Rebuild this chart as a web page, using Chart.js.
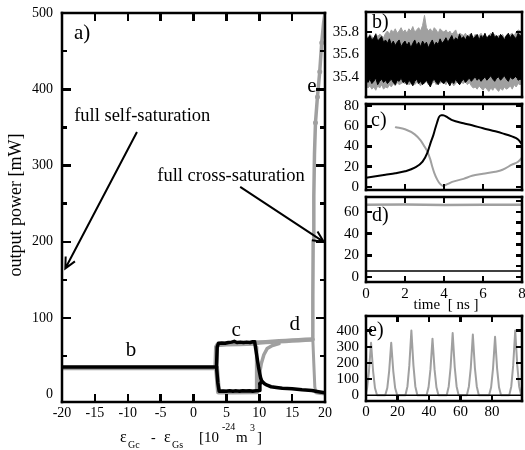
<!DOCTYPE html>
<html>
<head>
<meta charset="utf-8">
<script src="https://cdn.jsdelivr.net/npm/chart.js@4.4.1/dist/chart.umd.min.js"></script>
<style>
  html, body { margin: 0; padding: 0; background: #fff; }
  #wrap { position: relative; width: 525px; height: 450px; overflow: hidden; }
  canvas { position: absolute; display: block; }
  .tick { position: absolute; background: #000; }
</style>
</head>
<body>
<div id="wrap">
  <canvas id="panelA" width="350" height="450" style="left:0;top:0"></canvas>
  <canvas id="panelB" width="199" height="100" style="left:326px;top:0"></canvas>
  <canvas id="panelC" width="199" height="92" style="left:326px;top:100px"></canvas>
  <canvas id="panelD" width="199" height="125" style="left:326px;top:190px"></canvas>
  <canvas id="panelE" width="199" height="138" style="left:326px;top:312px"></canvas>
</div>
<script>
// ---- panel a: output power vs eps_Gc - eps_Gs ----
const aXTicks = [-20, -15, -10, -5, 0, 5, 10, 15, 20];
const aYTicks = [0, 100, 200, 300, 400, 500];
const aYMinor = [50, 150, 250, 350, 450];

// black mode
const aBlackSelf = [[-20, 36], [3.5, 36]];
const aBlackUpper = [[3.5, 36], [3.6, 62], [3.8, 67], [4.3, 67.5], [4.8, 67], [5.3, 68], [5.8, 68.5],
  [6.2, 69.5], [6.6, 68], [7.1, 68.5], [7.6, 68], [8.1, 68.5], [8.6, 68], [9.0, 69], [9.3, 69],
  [9.6, 52], [9.9, 35], [10.2, 22], [10.4, 17]];
const aBlackLower = [[3.5, 36], [3.7, 15], [3.9, 4], [4.5, 4.5], [5, 4], [5.5, 4.8], [6, 4.2],
  [6.5, 4.6], [7, 4], [7.5, 4.7], [8, 4.3], [8.5, 4.8], [9, 4.2], [9.5, 4.6], [10, 5], [10.1, 14]];
const aBlackTail = [[10.1, 14], [10.4, 17], [10.8, 14], [11.2, 12], [11.8, 10], [12.6, 9],
  [13.5, 8], [15, 7.5], [16.5, 6], [18, 5], [19, 3.5], [20, 2]];

// gray mode
const aGraySelf = [[-20, 34.5], [3.4, 34.5]];
const aGrayUpper = [[3.4, 35], [3.5, 62], [3.7, 65], [5, 66], [7, 66.5], [9.3, 67], [9.5, 68]];
const aGrayLower = [[3.5, 35], [3.8, 3], [6, 3], [9.6, 3.5]];
const aGrayCross = [[9.3, 67], [10, 68], [11, 68.5], [12, 69], [13, 69.5], [14, 70], [15, 70.5],
  [16, 71], [17, 71.5], [18.1, 72]];
const aGrayRise = [[9.6, 62], [9.6, 5], [9.8, 10], [10, 25], [10.3, 40], [10.7, 52], [11.2, 60],
  [12, 64], [13, 66.5]];
const aGrayPeak = [[18.1, 72], [18.15, 130], [18.2, 200], [18.3, 260], [18.4, 315], [18.55, 356],
  [18.85, 390], [19.2, 423], [19.5, 461], [19.8, 488], [20, 500]];
const aGrayMarks = [[18.55, 356], [18.85, 390], [19.2, 423], [19.5, 461]];
const aGrayDrop = [[18.15, 72], [18.3, 40], [18.45, 10], [18.6, 2], [19.3, 1], [20, 0.5]];

// ---- panel b: noise band, 0..8 ns, 0.1 ns step ----
const bBlackTop = [35.76,35.74,35.77,35.73,35.75,35.78,35.72,35.74,35.76,35.71,
  35.73,35.70,35.74,35.69,35.72,35.68,35.71,35.73,35.67,35.70,
  35.72,35.68,35.71,35.66,35.70,35.73,35.68,35.71,35.67,35.72,
  35.69,35.71,35.66,35.70,35.73,35.68,35.71,35.69,35.74,35.70,
  35.72,35.75,35.71,35.74,35.77,35.72,35.75,35.73,35.78,35.74,
  35.76,35.73,35.77,35.75,35.79,35.74,35.76,35.78,35.73,35.77,
  35.75,35.79,35.74,35.77,35.76,35.80,35.75,35.77,35.74,35.78,
  35.76,35.73,35.77,35.79,35.75,35.78,35.76,35.74,35.79,35.77,35.76];
const bBlackBottom = [35.37,35.35,35.38,35.34,35.36,35.39,35.33,35.36,35.38,35.35,
  35.37,35.34,35.36,35.38,35.35,35.33,35.37,35.36,35.39,35.35,
  35.36,35.33,35.37,35.35,35.32,35.36,35.38,35.34,35.36,35.33,
  35.35,35.37,35.34,35.31,35.36,35.38,35.35,35.33,35.37,35.35,
  35.34,35.37,35.35,35.32,35.36,35.34,35.38,35.35,35.33,35.36,
  35.38,35.35,35.37,35.39,35.36,35.38,35.40,35.37,35.39,35.36,
  35.38,35.40,35.37,35.39,35.41,35.38,35.36,35.39,35.40,35.37,
  35.39,35.41,35.38,35.36,35.40,35.38,35.39,35.41,35.37,35.38,35.37];
const bGrayTop = [35.77,35.75,35.78,35.76,35.74,35.79,35.76,35.78,35.77,35.75,
  35.79,35.81,35.78,35.82,35.80,35.83,35.79,35.81,35.84,35.80,
  35.82,35.79,35.83,35.81,35.85,35.80,35.82,35.84,35.81,35.86,
  35.95,35.84,35.81,35.83,35.80,35.84,35.82,35.79,35.83,35.81,
  35.80,35.82,35.79,35.81,35.78,35.80,35.82,35.77,35.79,35.78,
  35.77,35.79,35.76,35.78,35.77,35.75,35.78,35.76,35.77,35.79,
  35.76,35.78,35.75,35.77,35.79,35.76,35.78,35.75,35.77,35.76,
  35.78,35.75,35.77,35.76,35.78,35.79,35.77,35.80,35.82,35.81,35.80];
const bGrayBottom = [35.33,35.30,35.32,35.29,35.31,35.28,35.32,35.30,35.33,35.29,
  35.31,35.30,35.33,35.31,35.34,35.32,35.35,35.33,35.34,35.35,
  35.34,35.35,35.33,35.34,35.36,35.33,35.35,35.34,35.32,35.35,
  35.34,35.36,35.33,35.35,35.34,35.36,35.33,35.35,35.34,35.36,
  35.35,35.33,35.36,35.34,35.35,35.32,35.34,35.36,35.33,35.35,
  35.34,35.36,35.33,35.35,35.32,35.30,35.31,35.29,35.32,35.30,
  35.28,35.31,35.29,35.27,35.30,35.28,35.31,35.29,35.27,35.30,
  35.28,35.31,35.29,35.30,35.32,35.29,35.33,35.31,35.34,35.33,35.34];
const bStep = 0.1;
const bYTicks = [35.4, 35.6, 35.8];
const nsTicks = [0, 2, 4, 6, 8];
const nsInner = [2, 4, 6];

// ---- panel c: switching transient ----
const cBlackTime = [0, 0.5, 1, 1.5, 2, 2.5, 2.9, 3.15, 3.32, 3.45, 3.54, 3.65, 3.74, 3.85, 3.95,
  4.2, 4.42, 5, 5.44, 6, 6.63, 7, 7.48, 7.8, 8];
const cBlack = [9, 10.5, 12, 13.5, 15.5, 19, 25, 34, 44, 51, 57, 64, 69, 71, 71,
  68.5, 66, 63, 61, 58, 55, 53, 50, 47, 42];
const cGrayTime = [1.53, 2, 2.5, 2.8, 3.0, 3.15, 3.3, 3.4, 3.5, 3.66, 3.8, 3.95, 4.2, 4.42,
  5, 5.44, 6, 6.63, 7, 7.48, 7.8, 8];
const cGray = [59, 57, 52, 46, 40, 35, 27, 20, 14, 7, 3, 1, 3, 5, 8, 11, 13, 15, 17, 22, 25, 29];
const cYTicks = [0, 20, 40, 60, 80];

// ---- panel d: cross-saturated steady state ----
const dTime = [0, 2, 4, 6, 8];
const dGray = [66.5, 66.7, 66.4, 66.6, 66.5];
const dBlack = [5.5, 5.5, 5.5, 5.5, 5.5];
const dYTicks = [0, 20, 40, 60];
const dYMinor = [10, 30, 50, 70];

// ---- panel e: pulse train, ps ----
const eTime = [0, 0.7, 1.9, 3.2, 4.5, 5.7, 7,
  12.2, 13.5, 14.7, 16, 17.3, 18.5, 19.8,
  25, 26.3, 27.5, 28.8, 30.1, 31.3, 32.6,
  38.4, 39.7, 40.9, 42.2, 43.5, 44.7, 46,
  51.2, 52.5, 53.7, 55, 56.3, 57.5, 58.8,
  64, 65.3, 66.5, 67.8, 69.1, 70.3, 71.6,
  78.1, 79.4, 80.6, 81.9, 83.2, 84.4, 85.7,
  90.9, 92.2, 93.4, 94.7, 96, 97.2, 98.5, 99];
const ePower = [15, 45, 150, 325, 150, 45, 0,
  0, 45, 150, 325, 150, 45, 0,
  0, 55, 185, 400, 185, 55, 0,
  0, 50, 160, 350, 160, 50, 0,
  0, 55, 175, 385, 175, 55, 0,
  0, 55, 170, 375, 170, 55, 0,
  0, 50, 165, 362, 165, 50, 0,
  0, 55, 185, 400, 185, 55, 0, 0];
const eBaseTime = [0, 99];
const eBase = [0, 0];
const eXTicks = [0, 20, 40, 60, 80];
const eYTicks = [0, 100, 200, 300, 400];

// ---- shared helpers ----
const SERIF = '"Liberation Serif", "Times New Roman", serif';
const BLACK = '#000000';
const GRAY = '#a0a0a0';

function pairs(points) {
  return points.map(([x, y]) => ({ x, y }));
}

function zip(xs, ys) {
  return xs.map((x, i) => ({ x, y: ys[i] }));
}

function seg(points, color, width, order) {
  return {
    data: points, borderColor: color, backgroundColor: color,
    borderWidth: width, pointRadius: 0, tension: 0, order,
    fill: false, borderJoinStyle: 'round', borderCapStyle: 'round'
  };
}

function axis(range, ticks, size, pad, fontSize, showLabels) {
  return {
    type: 'linear', min: range[0], max: range[1],
    grid: { display: false, drawTicks: false },
    border: { display: false },
    ticks: {
      display: showLabels, color: '#000', padding: pad, autoSkip: false, maxRotation: 0,
      font: { family: SERIF, size: fontSize },
      callback: v => String(v)
    },
    afterBuildTicks: s => { s.ticks = ticks.map(v => ({ value: v })); },
    afterFit: s => {
      if (s.isHorizontal()) s.height = size; else s.width = size;
      s.paddingTop = 0; s.paddingBottom = 0; s.paddingLeft = 0; s.paddingRight = 0;
    }
  };
}

function text(ctx, t, x, y, size, align) {
  ctx.font = `${size}px ${SERIF}`;
  ctx.textAlign = align || 'center';
  ctx.textBaseline = 'middle';
  ctx.fillText(t, x, y);
}

function arrow(ctx, x1, y1, x2, y2) {
  const ang = Math.atan2(y2 - y1, x2 - x1);
  const h = 12;
  ctx.beginPath();
  ctx.moveTo(x1, y1);
  ctx.lineTo(x2, y2);
  ctx.moveTo(x2 - h * Math.cos(ang - 0.45), y2 - h * Math.sin(ang - 0.45));
  ctx.lineTo(x2, y2);
  ctx.lineTo(x2 - h * Math.cos(ang + 0.45), y2 - h * Math.sin(ang + 0.45));
  ctx.stroke();
}

// frame around the plot area, then extra text
function panel(id, extra) {
  return {
    id,
    afterDraw(chart) {
      const { ctx, chartArea: a } = chart;
      const t = 2.5;
      const w = a.right - a.left;
      const h = a.bottom - a.top;
      ctx.save();
      ctx.fillStyle = '#000';
      ctx.fillRect(a.left - t / 2, a.top - t / 2, w + t, t);
      ctx.fillRect(a.left - t / 2, a.bottom - t / 2, w + t, t);
      ctx.fillRect(a.left - t / 2, a.top - t / 2, t, h + t);
      ctx.fillRect(a.right - t / 2, a.top - t / 2, t, h + t);
      ctx.restore();

      ctx.save();
      ctx.fillStyle = '#000';
      ctx.strokeStyle = '#000';
      extra(ctx, a, chart.scales);
      ctx.restore();
    }
  };
}

// inward tick marks on every side, placed from the chart's own scales
// spec: { x: [{ v, len, side }], y: [{ v, len, side }] }
function tickMarks(chart, spec) {
  const wrap = document.getElementById('wrap');
  const a = chart.chartArea;
  const ox = chart.canvas.offsetLeft;
  const oy = chart.canvas.offsetTop;
  const t = 2.5;
  const add = (x, y, w, h) => {
    const d = document.createElement('div');
    d.className = 'tick';
    d.style.left = (ox + x) + 'px';
    d.style.top = (oy + y) + 'px';
    d.style.width = w + 'px';
    d.style.height = h + 'px';
    wrap.appendChild(d);
  };
  spec.x.forEach(m => {
    m.v.forEach(v => {
      const px = chart.scales.x.getPixelForValue(v);
      if (m.side !== 'top') add(px - t / 2, a.bottom - m.len, t, m.len);
      if (m.side !== 'bottom') add(px - t / 2, a.top, t, m.len);
    });
  });
  spec.y.forEach(m => {
    m.v.forEach(v => {
      const py = chart.scales.y.getPixelForValue(v);
      if (m.side !== 'right') add(a.left, py - t / 2, m.len, t);
      if (m.side !== 'left') add(a.right - m.len, py - t / 2, m.len, t);
    });
  });
}

function baseOptions(padTop, padRight, scales) {
  return {
    responsive: false,
    animation: false,
    events: [],
    layout: { autoPadding: false, padding: { top: padTop, right: padRight, left: 0, bottom: 0 } },
    plugins: { legend: { display: false }, tooltip: { enabled: false } },
    scales
  };
}

// ---- panel a ----
const aXRange = [-20, 20];
const aYRange = [-10, 500];
const aNotes = {
  self: { label: 'full self-saturation', at: [-7.8, 365], from: [-8.6, 344], to: [-19.5, 165] },
  cross: { label: 'full cross-saturation', at: [5.7, 286], from: [7.1, 272], to: [19.8, 200] },
  letters: [['b', -9.5, 58], ['c', 6.5, 84], ['d', 15.4, 92], ['e', 18.0, 404]]
};

function decorA(ctx, a, { x, y }) {
  const px = v => x.getPixelForValue(v);
  const py = v => y.getPixelForValue(v);
  ctx.lineWidth = 2;
  text(ctx, 'a)', a.left + 12, a.top + 20, 21, 'left');
  [aNotes.self, aNotes.cross].forEach(n => {
    text(ctx, n.label, px(n.at[0]), py(n.at[1]), 18.5);
    arrow(ctx, px(n.from[0]), py(n.from[1]), px(n.to[0]), py(n.to[1]));
  });
  aNotes.letters.forEach(([t, lx, ly]) => text(ctx, t, px(lx), py(ly), 21));

  // y title
  ctx.save();
  ctx.translate(16, 205);
  ctx.rotate(-Math.PI / 2);
  text(ctx, 'output power [mW]', 0, 0, 18);
  ctx.restore();

  // x title with sub/superscripts
  ctx.textAlign = 'left';
  ctx.textBaseline = 'alphabetic';
  const parts = [
    ['ε', 120, 442, 16], ['Gc', 128, 448, 10], ['-', 151, 442, 14],
    ['ε', 164, 442, 16], ['Gs', 172, 448, 10], ['[10', 199, 442, 15],
    ['-24', 222, 430, 10], ['m', 236, 442, 15], ['3', 250, 431, 10], [']', 257, 442, 15]
  ];
  parts.forEach(([t, tx, ty, s]) => {
    ctx.font = `${s}px ${SERIF}`;
    ctx.fillText(t, tx, ty);
  });
}

const chartA = new Chart(document.getElementById('panelA'), {
  type: 'line',
  data: {
    datasets: [
      seg(pairs(aBlackSelf), BLACK, 3.5, 0),
      seg(pairs(aBlackUpper), BLACK, 3.5, 0),
      seg(pairs(aBlackLower), BLACK, 3.5, 0),
      seg(pairs(aBlackTail), BLACK, 3.5, 0),
      seg(pairs(aGraySelf), GRAY, 4.5, 1),
      seg(pairs(aGrayUpper), GRAY, 5, 1),
      seg(pairs(aGrayLower), GRAY, 5, 1),
      seg(pairs(aGrayCross), GRAY, 4.5, 1),
      seg(pairs(aGrayRise), GRAY, 3.5, 1),
      seg(pairs(aGrayPeak), GRAY, 3.5, 1),
      seg(pairs(aGrayDrop), GRAY, 3, 1),
      Object.assign(seg(pairs(aGrayMarks), GRAY, 0, 1), { showLine: false, pointRadius: 2.5 })
    ]
  },
  options: baseOptions(13, 25, {
    x: axis(aXRange, aXTicks, 48, 3, 14, true),
    y: axis(aYRange, aYTicks, 62, 9, 14, true)
  }),
  plugins: [panel('panelAFrame', decorA)]
});
tickMarks(chartA, {
  x: [{ v: aXTicks.slice(1, -1), len: 8, side: 'both' }],
  y: [{ v: aYTicks.slice(1, -1), len: 9, side: 'both' }, { v: aYMinor, len: 5, side: 'both' }]
});

// ---- small panels ----
function label(t, dx, dy) {
  return (ctx, a) => text(ctx, t, a.left + dx, a.top + dy, 20, 'left');
}

const nsRange = [0, 8];
const bYRange = [35.22, 35.98];
const cYRange = [-3, 82];
const dYRange = [-4.6, 73.7];
const eXRange = [0, 99];
const eYRange = [-35, 490];

const bTime = bBlackTop.map((_, i) => i * bStep);
const chartB = new Chart(document.getElementById('panelB'), {
  type: 'line',
  data: {
    datasets: [
      Object.assign(seg(zip(bTime, bGrayTop), GRAY, 1, 1), { fill: '+1' }),
      seg(zip(bTime, bGrayBottom), GRAY, 1, 1),
      Object.assign(seg(zip(bTime, bBlackTop), BLACK, 1, 0), { fill: '+1' }),
      seg(zip(bTime, bBlackBottom), BLACK, 1, 0)
    ]
  },
  options: baseOptions(12, 3, {
    x: axis(nsRange, nsTicks, 3, 0, 15, false),
    y: axis(bYRange, bYTicks, 40, 7, 15, true)
  }),
  plugins: [panel('panelBFrame', label('b)', 6, 11))]
});
tickMarks(chartB, {
  x: [{ v: nsInner, len: 6, side: 'both' }],
  y: [{ v: bYTicks, len: 6, side: 'both' }]
});

const chartC = new Chart(document.getElementById('panelC'), {
  type: 'line',
  data: {
    datasets: [
      Object.assign(seg(zip(cBlackTime, cBlack), BLACK, 2, 0), { cubicInterpolationMode: 'monotone' }),
      Object.assign(seg(zip(cGrayTime, cGray), GRAY, 2, 1), { cubicInterpolationMode: 'monotone' })
    ]
  },
  options: baseOptions(4, 3, {
    x: axis(nsRange, nsTicks, 2, 0, 15, false),
    y: axis(cYRange, cYTicks, 40, 7, 15, true)
  }),
  plugins: [panel('panelCFrame', label('c)', 5, 17))]
});
tickMarks(chartC, {
  x: [{ v: nsInner, len: 6, side: 'both' }],
  y: [{ v: cYTicks, len: 6, side: 'both' }]
});

const chartD = new Chart(document.getElementById('panelD'), {
  type: 'line',
  data: {
    datasets: [
      seg(zip(dTime, dBlack), BLACK, 1.5, 0),
      seg(zip(dTime, dGray), GRAY, 2.5, 1)
    ]
  },
  options: baseOptions(7, 3, {
    x: axis(nsRange, nsTicks, 33, 3, 15, true),
    y: axis(dYRange, dYTicks, 40, 7, 15, true)
  }),
  plugins: [
    panel('panelDFrame', (ctx, a) => {
      text(ctx, 'd)', a.left + 6, a.top + 19, 20, 'left');
      text(ctx, 'time  [ ns ]', a.left + 80, a.bottom + 23, 15);
    })
  ]
});
tickMarks(chartD, {
  x: [{ v: nsInner, len: 6, side: 'both' }],
  y: [{ v: dYTicks, len: 6, side: 'both' }, { v: dYMinor, len: 6, side: 'right' }]
});

const chartE = new Chart(document.getElementById('panelE'), {
  type: 'line',
  data: {
    datasets: [
      seg(zip(eBaseTime, eBase), BLACK, 1.5, 0),
      seg(zip(eTime, ePower), GRAY, 2, 1)
    ]
  },
  options: baseOptions(4, 3, {
    x: axis(eXRange, eXTicks, 49, 2, 15, true),
    y: axis(eYRange, eYTicks, 40, 7, 15, true)
  }),
  plugins: [
    panel('panelEFrame', (ctx, a) => {
      text(ctx, 'e)', a.left + 2, a.top + 15, 20, 'left');
      text(ctx, 'time', 411, a.bottom + 31, 15);
      text(ctx, '[ ps ]', 474, a.bottom + 31, 15);
    })
  ]
});
tickMarks(chartE, {
  x: [{ v: eXTicks.slice(1), len: 6, side: 'both' }],
  y: [{ v: eYTicks.slice(1), len: 6, side: 'both' }]
});
</script>
</body>
</html>
